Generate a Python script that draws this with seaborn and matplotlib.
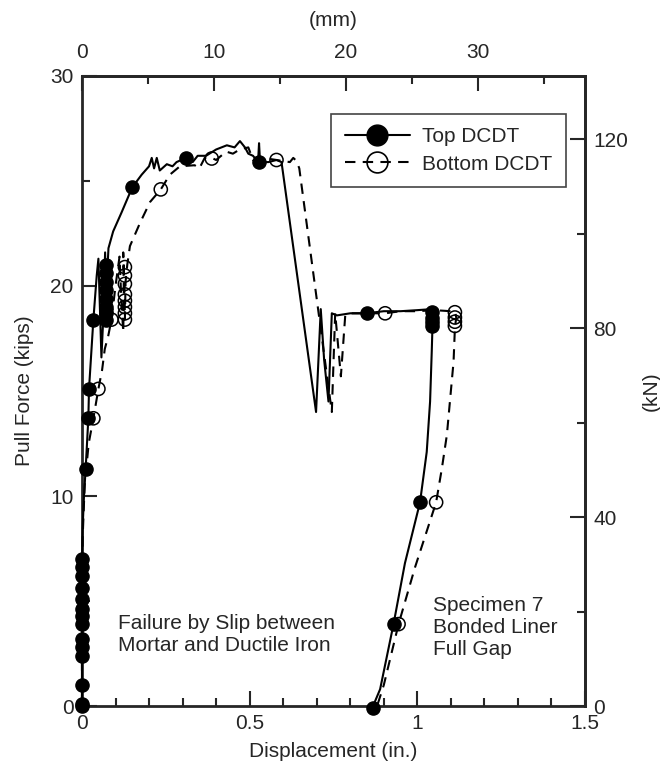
import matplotlib
matplotlib.use("Agg")
import matplotlib.pyplot as plt
from matplotlib.lines import Line2D
from matplotlib.ticker import MultipleLocator, FixedLocator, FuncFormatter
import seaborn as sns

# Top DCDT (solid line, filled markers)
top_x = [0, 0, 0, 0.002, 0.006, 0.011, 0.019, 0.021, 0.034, 0.044, 0.049, 0.053, 0.058,
         0.063, 0.069, 0.072, 0.073, 0.075, 0.079, 0.093, 0.118, 0.150, 0.178, 0.200,
         0.208, 0.215, 0.223, 0.232, 0.253, 0.270, 0.282, 0.310, 0.330, 0.345, 0.370,
         0.400, 0.432, 0.455, 0.471, 0.486, 0.496, 0.510, 0.525, 0.528, 0.531, 0.556,
         0.580, 0.595, 0.698, 0.712, 0.722, 0.735, 0.745, 0.760, 0.800, 0.849, 0.900,
         0.950, 1.000, 1.043, 1.048, 1.045, 1.043, 1.038, 1.028, 1.018, 1.008, 0.963,
         0.929, 0.889, 0.868, 0.866]
top_y = [0, 3.5, 7.0, 8.5, 10.0, 11.3, 13.7, 15.1, 18.4, 20.5, 21.3, 19.2, 16.6,
         18.3, 21.6, 19.8, 18.3, 20.5, 21.8, 22.6, 23.5, 24.7, 25.3, 25.7,
         26.1, 25.6, 26.1, 25.5, 25.8, 25.7, 25.9, 26.1, 25.9, 26.2, 26.2,
         26.5, 26.7, 26.6, 26.9, 26.6, 26.3, 26.2, 25.9, 26.8, 25.9, 25.9,
         26.0, 25.9, 14.0, 18.9, 16.5, 14.5, 18.7, 18.6, 18.7, 18.7, 18.8,
         18.8, 18.85, 18.9, 18.7, 18.0, 16.9, 14.5, 12.1, 10.9, 9.7, 6.8,
         3.9, 0.8, 0.0, -0.2]
top_mx = [0] * 14 + [0.011, 0.019, 0.021, 0.034] + [0.073] * 8 + \
         [0.150, 0.310, 0.529, 0.849] + [1.043] * 4 + [1.008, 0.929, 0.868]
top_my = [0, 0.1, 1.0, 2.4, 2.8, 3.2, 3.9, 4.3, 4.6, 5.1, 5.6, 6.2, 6.6, 7.0,
          11.3, 13.7, 15.1, 18.4,
          18.4, 18.7, 19.0, 19.4, 19.8, 20.2, 20.6, 21.0,
          24.7, 26.1, 25.9, 18.7,
          18.75, 18.5, 18.3, 18.1,
          9.7, 3.9, -0.1]

# Bottom DCDT (dashed line, open markers)
bot_x = [0, 0, 0.002, 0.008, 0.020, 0.034, 0.049, 0.060, 0.068, 0.078, 0.088, 0.100,
         0.112, 0.117, 0.123, 0.125, 0.123, 0.127, 0.128, 0.130, 0.135, 0.143, 0.173,
         0.203, 0.235, 0.262, 0.292, 0.336, 0.350, 0.366, 0.387, 0.400, 0.430, 0.450,
         0.470, 0.496, 0.510, 0.540, 0.580, 0.620, 0.630, 0.640, 0.648, 0.745, 0.755,
         0.772, 0.785, 0.800, 0.850, 0.904, 0.950, 1.000, 1.050, 1.100, 1.112, 1.116,
         1.112, 1.108, 1.088, 1.073, 1.056, 0.993, 0.944, 0.900, 0.880]
bot_y = [0, 4.0, 8.0, 10.5, 12.5, 13.7, 15.1, 16.0, 17.0, 17.6, 18.4, 20.0,
         21.4, 19.5, 17.8, 19.5, 21.6, 19.8, 18.4, 20.2, 21.0, 21.9, 23.0,
         24.0, 24.6, 25.3, 25.7, 25.75, 25.6, 26.1, 26.1, 26.0, 26.4, 26.3,
         26.5, 26.6, 26.0, 26.1, 26.0, 25.9, 26.1, 25.95, 25.6, 14.0, 18.7,
         15.7, 18.6, 18.7, 18.7, 18.7, 18.8, 18.8, 18.85, 18.8, 18.8, 18.5,
         18.0, 16.4, 12.9, 11.3, 9.7, 6.6, 3.9, 1.0, 0.0]
bot_mx = [0.034, 0.049, 0.088] + [0.128] * 8 + [0.235, 0.387, 0.580, 0.904] + \
         [1.112] * 4 + [1.056, 0.944]
bot_my = [13.7, 15.1, 18.4,
          18.4, 18.7, 19.0, 19.3, 19.6, 20.1, 20.5, 20.9,
          24.6, 26.07, 26.0, 18.7,
          18.75, 18.5, 18.3, 18.1,
          9.7, 3.9]

# tick values of the metric axes
mm_major = [0, 10, 20, 30]
mm_minor = [5, 15, 25, 35]
kn_major = [0, 40, 80, 120]
kn_minor = [20, 60, 100]

sns.set_theme(style="ticks")
plt.rcParams["font.family"] = ["Liberation Sans", "DejaVu Sans"]
FS = 15
dash = (0, (5, 3.5))

fig, ax = plt.subplots(figsize=(6.6, 7.66), dpi=100)
fig.subplots_adjust(left=0.1242, right=0.8864, bottom=0.0783, top=0.9008)

sns.lineplot(x=top_x, y=top_y, sort=False, estimator=None, color="black",
             lw=1.5, ax=ax, clip_on=False, zorder=3)
sns.lineplot(x=bot_x, y=bot_y, sort=False, estimator=None, color="black",
             lw=1.5, linestyle=dash, ax=ax, clip_on=False, zorder=3)
sns.scatterplot(x=top_mx, y=top_my, s=90, marker="o", facecolor="black",
                edgecolor="black", linewidth=1, ax=ax, clip_on=False, zorder=5)
sns.scatterplot(x=bot_mx, y=bot_my, s=90, marker="o", facecolor="none",
                edgecolor="black", linewidth=1.1, ax=ax, clip_on=False, zorder=5)

ax.set_xlim(0, 1.5)
ax.set_ylim(0, 30)
ax.xaxis.set_major_locator(MultipleLocator(0.5))
ax.xaxis.set_minor_locator(MultipleLocator(0.1))
ax.yaxis.set_major_locator(MultipleLocator(10))
ax.yaxis.set_minor_locator(MultipleLocator(5))
ax.xaxis.set_major_formatter(FuncFormatter(lambda v, p: "%g" % v))
ax.tick_params(which="major", direction="in", length=11, width=1.5,
               labelsize=FS, pad=6, top=False, right=False)
ax.tick_params(which="minor", direction="in", length=6, width=1.5,
               top=False, right=False)
for sp in ax.spines.values():
    sp.set_linewidth(2)
    sp.set_visible(True)
ax.set_xlabel("Displacement (in.)", fontsize=FS, labelpad=6)
ax.set_ylabel("Pull Force (kips)", fontsize=FS, labelpad=12)

# secondary metric axes
secx = ax.secondary_xaxis("top", functions=(lambda v: v * 25.4, lambda v: v / 25.4))
secx.xaxis.set_major_locator(FixedLocator(mm_major))
secx.xaxis.set_minor_locator(FixedLocator(mm_minor))
secx.tick_params(which="major", direction="in", length=11, width=1.5,
                 labelsize=FS, pad=10)
secx.tick_params(which="minor", direction="in", length=6, width=1.5)
secx.spines["top"].set_linewidth(2)
secx.set_xlabel("(mm)", fontsize=FS, labelpad=12)

secy = ax.secondary_yaxis("right", functions=(lambda v: v * 4.448, lambda v: v / 4.448))
secy.yaxis.set_major_locator(FixedLocator(kn_major))
secy.yaxis.set_minor_locator(FixedLocator(kn_minor))
secy.tick_params(which="major", direction="in", length=11, width=1.5,
                 labelsize=FS, pad=6)
secy.tick_params(which="minor", direction="in", length=6, width=1.5)
secy.spines["right"].set_linewidth(2)
secy.set_ylabel("(kN)", fontsize=FS, labelpad=10)

ax.text(0.108, 3.4, "Failure by Slip between\nMortar and Ductile Iron",
        fontsize=FS, ha="left", va="center")
ax.text(1.047, 3.75, "Specimen 7\nBonded Liner\nFull Gap",
        fontsize=FS, ha="left", va="center")

handles = [
    Line2D([0], [0], color="black", lw=1.5, marker="o", ms=15,
           mfc="black", mec="black"),
    Line2D([0], [0], color="black", lw=1.5, linestyle=dash, marker="o", ms=15,
           mfc="none", mec="black", mew=1.2),
]
leg = ax.legend(handles, ["Top DCDT", "Bottom DCDT"], loc="upper right",
                bbox_to_anchor=(0.962, 0.94), fontsize=FS, frameon=True,
                fancybox=False, framealpha=1, edgecolor="#444444",
                borderpad=0.65, handlelength=3.1, handletextpad=0.6,
                labelspacing=0.4, borderaxespad=0)
leg.get_frame().set_linewidth(1.2)

plt.savefig("out.png", dpi=100)
